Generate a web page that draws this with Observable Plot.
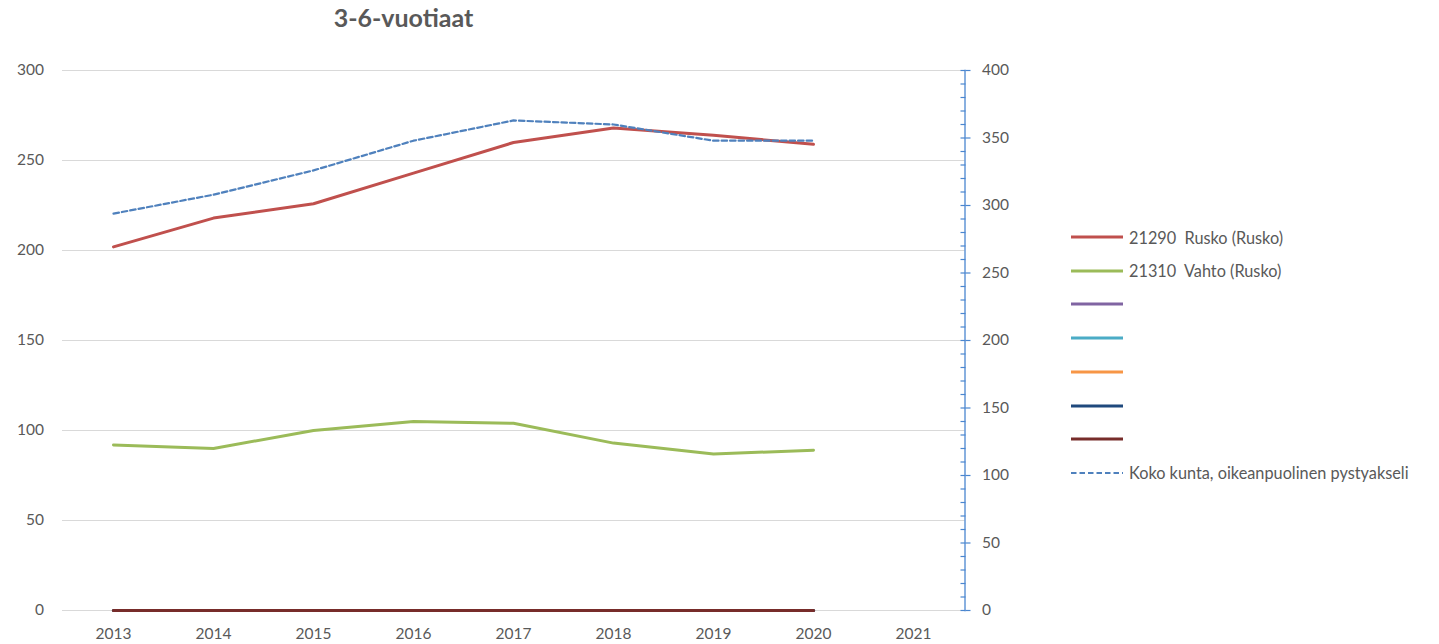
<!DOCTYPE html>
<html>
<head>
<meta charset="utf-8">
<script src="https://cdn.jsdelivr.net/npm/d3@7"></script>
<script src="https://cdn.jsdelivr.net/npm/@observablehq/plot@0.6"></script>
<style>
  html, body { margin: 0; padding: 0; background: #fff; }
  #wrap { position: relative; width: 1439px; height: 644px; overflow: hidden; font-family: Lato, "Open Sans", sans-serif; color: #595959; }
  #title { position: absolute; left: 403.5px; top: 2px; transform: translateX(-50%); font-size: 25px; font-weight: bold; white-space: nowrap; }
  #legend { position: absolute; left: 1071px; top: 0; }
  .item { position: absolute; left: 0; height: 20px; display: flex; align-items: center; white-space: pre; font-size: 16.3px; }
  .item svg { margin-right: 6px; }
</style>
</head>
<body>
<div id="wrap">
  <div id="chart"></div>
  <div id="title">3-6-vuotiaat</div>
  <div id="legend"></div>
</div>
<script>
// ---- data ----
const years = [2013, 2014, 2015, 2016, 2017, 2018, 2019, 2020, 2021];
const dataYears = [2013, 2014, 2015, 2016, 2017, 2018, 2019, 2020];
const rusko = [202, 218, 226, 243, 260, 268, 264, 259];
const vahto = [92, 90, 100, 105, 104, 93, 87, 89];
const series3 = [0, 0, 0, 0, 0, 0, 0, 0];
const series4 = [0, 0, 0, 0, 0, 0, 0, 0];
const series5 = [0, 0, 0, 0, 0, 0, 0, 0];
const series6 = [0, 0, 0, 0, 0, 0, 0, 0];
const series7 = [0, 0, 0, 0, 0, 0, 0, 0];
const kokoKunta = [294, 308, 326, 348, 363, 360, 348, 348];
const seriesNames = ["21290  Rusko (Rusko)", "21310  Vahto (Rusko)", "", "", "", "", ""];
const totalName = "Koko kunta, oikeanpuolinen pystyakseli";
const leftTicks = [0, 50, 100, 150, 200, 250, 300];
const rightTicks = [0, 50, 100, 150, 200, 250, 300, 350, 400];
const rightMinor = d3.range(0, 401, 10);

// ---- styles ----
const colors = ["#c0504d", "#9bbb59", "#8064a2", "#4bacc6", "#f79646", "#1f497d", "#772c2a"];
const totalColor = "#4f81bd";
const axisBlue = "#4a86cf";
const textGrey = "#595959";

const primarySeries = [rusko, vahto, series3, series4, series5, series6, series7];
const ratio = 300 / 400; // right axis -> left axis scale

const rows = (vals, k = 1) => vals.map((v, i) => ({year: dataYears[i], value: v * k}));

const chart = Plot.plot({
  width: 1439,
  height: 644,
  marginLeft: 62,
  marginRight: 474.5,
  marginTop: 70,
  marginBottom: 34,
  style: {fontFamily: "Lato, 'Open Sans', sans-serif", fontSize: "15.5px", background: "white", color: textGrey},
  x: {type: "point", domain: years, padding: 0.5},
  y: {domain: [0, 300]},
  marks: [
    Plot.gridY(leftTicks, {stroke: "#d9d9d9", strokeOpacity: 1, strokeWidth: 1}),
    Plot.axisY({anchor: "left", ticks: leftTicks, tickSize: 0, tickPadding: 18.5, color: textGrey, label: null}),
    Plot.axisX({anchor: "bottom", tickSize: 0, tickPadding: 17, color: textGrey, label: null, tickFormat: d => String(d)}),
    Plot.frame({anchor: "right", stroke: axisBlue, strokeWidth: 1.3}),
    Plot.axisY({anchor: "right", ticks: rightMinor.map(v => v * ratio), tickSize: 5, dx: -5, stroke: axisBlue, strokeWidth: 1.2, tickFormat: () => "", label: null}),
    Plot.axisY({anchor: "right", ticks: rightTicks.map(v => v * ratio), tickSize: 5, tickPadding: 12, stroke: axisBlue, strokeWidth: 1.2, fill: textGrey,
      tickFormat: d => String(Math.round(d / ratio)), label: null}),
    ...primarySeries.map((s, i) => Plot.line(rows(s), {x: "year", y: "value", stroke: colors[i], strokeWidth: 3, strokeLinejoin: "round"})),
    Plot.line(rows(kokoKunta, ratio), {x: "year", y: "value", stroke: totalColor, strokeWidth: 2.2, strokeDasharray: "5.5,3"})
  ]
});
document.getElementById("chart").appendChild(chart);

// ---- legend ----
const legend = document.getElementById("legend");
const entries = seriesNames.map((n, i) => ({name: n, color: colors[i], dash: null}))
  .concat([{name: totalName, color: totalColor, dash: "5.5,3"}]);
const legendTop = 237, legendStep = 33.7;
entries.forEach((e, i) => {
  const div = document.createElement("div");
  div.className = "item";
  div.style.top = (legendTop + i * legendStep - 10) + "px";
  const w = e.dash ? 2.2 : 3;
  div.innerHTML = `<svg width="52" height="6"><line x1="0" y1="3" x2="52" y2="3" stroke="${e.color}" stroke-width="${w}" ${e.dash ? `stroke-dasharray="${e.dash}"` : ""}/></svg><span>${e.name}</span>`;
  legend.appendChild(div);
});
</script>
</body>
</html>
